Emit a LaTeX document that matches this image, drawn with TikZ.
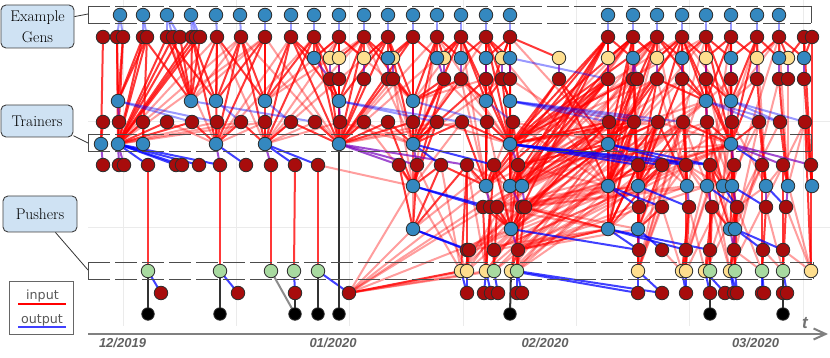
\documentclass[tikz,border=0pt]{standalone}
\usepackage{fontspec}
\newfontfamily\lsans{Liberation Sans}
\newfontfamily\dsans{DejaVu Sans}
\usetikzlibrary{arrows.meta}
\definecolor{cblue}{RGB}{52,136,192}
\definecolor{cred}{RGB}{168,12,12}
\definecolor{cyel}{RGB}{254,222,142}
\definecolor{cgrn}{RGB}{168,218,160}
\definecolor{cpur}{RGB}{120,0,190}
\definecolor{clab}{RGB}{207,226,243}
\definecolor{cedge}{RGB}{45,45,45}
\pgfdeclarelayer{bg}
\pgfdeclarelayer{edges}
\pgfsetlayers{bg,edges,main}
\tikzset{
  nd/.style={circle,draw=cedge,line width=0.8pt,minimum size=13.5pt,inner sep=0pt},
  bn/.style={nd,fill=cblue},
  rn/.style={nd,fill=cred},
  yn/.style={nd,fill=cyel},
  gn/.style={nd,fill=cgrn},
  kn/.style={nd,fill=black,minimum size=12.5pt},
  inp/.style={draw=red,line width=2pt,opacity=0.78},
  inpp/.style={draw=red,line width=2pt,opacity=0.38},
  outp/.style={draw=blue,line width=2pt,opacity=0.75},
  outpp/.style={draw=blue,line width=2pt,opacity=0.4},
  mix/.style={draw=cpur,line width=2pt,opacity=0.7},
  push/.style={draw=black!80,line width=2pt},
  pushg/.style={draw=black!45,line width=2pt},
  band/.style={draw=black!70,line width=0.9pt,dash pattern=on 22pt off 5pt},
  bandend/.style={draw=black!70,line width=0.9pt},
  lab/.style={draw=black!75,line width=0.9pt,rounded corners=5pt,fill=clab,align=center,inner sep=0pt,font=\fontsize{15.5}{21}\selectfont},
  gridln/.style={draw=black!8,line width=1pt},
  datel/.style={font=\lsans\bfseries\itshape\fontsize{13}{13}\selectfont,text=black!62,anchor=base},
  legt/.style={font=\dsans\fontsize{12.7}{13}\selectfont,text=black!65,anchor=base},
  conn/.style={draw=black!80,line width=0.8pt},
}
\newcommand\edgeset[2]{\foreach \c/\ins in {#2} {\foreach \i in \ins {\draw[#1] (\i.center) -- (\c.center);}}}
\begin{document}
\begin{tikzpicture}[x=1pt,y=-1pt]
\useasboundingbox (0,0) rectangle (830,358);
\begin{pgfonlayer}{bg}
\fill[white] (0,0) rectangle (830,358);
\foreach \x in {123,236,349,463,576,689,803} \draw[gridln] (\x,0) -- (\x,326);
\foreach \y in {122,228} \draw[gridln] (88,\y) -- (830,\y);
\end{pgfonlayer}

% bands
\draw[band] (88,6) -- (811,6); \draw[band] (88,23) -- (811,23);
\draw[bandend] (88,6) -- (88,23); \draw[bandend] (811,6) -- (811,23);
\draw[band] (88,134) -- (811,134); \draw[band] (88,151) -- (811,151);
\draw[bandend] (88,134) -- (88,151); \draw[bandend] (811,134) -- (811,151);
\draw[band] (88,262) -- (813,262); \draw[band] (88,279) -- (813,279);
\draw[bandend] (88,262) -- (88,279); \draw[bandend] (813,262) -- (813,279);

% nodes
\foreach \x in {120,143,167,191,216,240,265,291,314,339,364,388,413,437,461,486,510,608,633,657,682,706,731,757,779} \node[bn] (A\x) at (\x,15) {};
\foreach \x in {103,117,123,143,147,167,173,180,192,196,200,217,241,265,291,314,339,364,388,413,437,461,486,510,608,633,657,682,706,731,757,779,804,812} \node[rn] (B\x) at (\x,37) {};
\foreach \x in {330,339,364,393,444,502,559,608,657,706,757,788} \node[yn] (C\x) at (\x,58) {};
\foreach \x in {314,388,437,461,486,510,633,682,731,779,804} \node[bn] (C\x) at (\x,58) {};
\foreach \x in {330,339,364,388,393,444,461,486,502,510,559,608,633,637,657,682,706,731,757,779,788,804} \node[rn] (D\x) at (\x,79) {};
\foreach \x in {118,191,216,265,339,413,486,510,706,731} \node[bn] (E\x) at (\x,101) {};
\foreach \x in {103,119,143,167,192,217,241,265,291,315,340,364,388,413,437,462,487,513,609,634,658,683,707,732,759,780,805} \node[rn] (F\x) at (\x,122) {};
\foreach \x in {101,118,143,216,265,339,413,510,608,731} \node[bn] (G\x) at (\x,144) {};
\foreach \x in {103,119,124,148,176,182,199,220,246,271,295,318,399,417,441,467,494,518,638,662,686,710,734,762,783,811} \node[rn] (H\x) at (\x,165) {};
\foreach \x in {413,486,510,522,608,638,687,707,723,732,766,788,812} \node[bn] (I\x) at (\x,186) {};
\foreach \x in {483,490,497,522,525,639,662,689,712,737,766,786} \node[rn] (J\x) at (\x,207) {};
\foreach \x in {413,511,608,638,730,735} \node[bn] (K\x) at (\x,229) {};
\foreach \x in {467,469,494,518,639,662,686,710,734,763,783} \node[rn] (L\x) at (\x,250) {};
\foreach \x in {461,467,486,511,638,682,686,705,730,811} \node[yn] (M\x) at (\x,271) {};
\foreach \x in {148,220,271,294,318,494,517,710,735,762,783} \node[gn] (M\x) at (\x,271) {};
\foreach \x in {161,238,295,349,467,484,491,498,517,522,638,662,686,710,725,734,737,762,764,783,787} \node[rn] (N\x) at (\x,293) {};
\foreach \x in {148,220,295,318,339,510,710,783} \node[kn] (O\x) at (\x,314) {};

\begin{pgfonlayer}{edges}
% pale inputs
\edgeset{inpp}{G118/{B217,B241,F217,F241,F265,B265},E191/{B241,B265},G216/{B167,B291,B314,F265,F167},
G265/{B339,B364,B388,F315,F340,B217},E265/{B339,B364},G339/{B241,B265,B437,B461,F437,F462,D393},
G413/{B364,D393,B486,F364,F340,D502},E413/{B339,B461,D486},G510/{B437,D444,B682,F658,F437,D461,B706,D657},
I413/{D393,F364,H318,B413,B437,F462,N349},K413/{H494,N349,F413},I486/{F513,B461,D461,F609,B633,N349},
I510/{F634,H467,N349,B682,D657},I522/{B633,F658,B657,N349,D682,F707},
K511/{F513,B510,H467,F487,N349,B657,F683},I608/{F513,H518,B486,J522,L467,L494,J483},
G608/{B510,D510,F513,L518,J497,L494,J490,L469,J483,L467},K608/{B608,D633,B657,H686,L469,J490,L494},
I638/{J522,L494,J497,L518},K638/{F658,H686,F683,L518,J525},I687/{H662,D657,B657,F707,J522,L518},I707/{F683,H686,B731,J525,L518},
I723/{F732,D731,H686},I732/{F707,H710,D706},K730/{H686,F707,H762},K735/{F732,H762,F759},
I766/{J737,F732,B757,H783},I788/{F805,D788,B779},E706/{H518,J525,L518},E731/{B779,D757,B682},
G731/{J522,L518,H518,J497,L494,L469,J525,F658},
M461/{H399,H441,B608,D608,F609},M467/{H417,N349,B633,F634},M486/{N349,H467,D633,F658,B657},
M494/{N349,J490,F683,D682},M511/{B682,F707,D706},M517/{B706,F732,D731},M638/{J662,H662,F683,B706,D706},
M682/{J662,L662,F732,D731,B757},M686/{F759},M705/{J689,F780,B779},M730/{J712,H710,D779,F805},
M762/{J737,L734},M783/{J766,L763},M811/{L783,J786,H783}}
% strong inputs
\edgeset{inp}{G101/{B103,F103},G118/{B117,B123,B143,B147,B167,B173,B180,B192,B196,B200,F119,F143,F167,F192},
E118/{B117,B123,B143,B147},E191/{B143,B167,B173,B180,B192,B200,B217},E216/{B167,B192,B217,B241,B265},
E265/{B217,B241,B265,B291,B314},G143/{F143,B147},G216/{B192,B217,B241,B265,F192,F217,F241},
G265/{B241,B265,B291,B314,F241,F265,F291},E339/{B291,B314,B339,B364,B388,D330,D339},
G339/{B291,B314,B339,B364,B388,B413,D330,D339,D364,D388,F291,F315,F340,F364,F388,F413},
E413/{B364,B388,B413,B437,D393,D444,D461},G413/{B388,B413,B437,B461,D444,D461,D486,F388,F413,F437,F462},
E486/{B461,B486,B510,D461,D486,D502},E510/{B486,B510,D502,D510},
G510/{B461,B486,B510,D486,D502,D510,F462,F487,F513,D559,B608,D608,B633,B657,D633,F609,F634},
C314/{B291,B314,B339},C330/{B314,B339},C339/{B339,B364},C364/{B339,B364,B388},C388/{B364,B388,B413},
C393/{B388,B413},C437/{B413,B437,B461},C444/{B437,B461},C461/{B437,B461,B486},C486/{B461,B486,B510},
C502/{B486,B510},C510/{B486,B510},C559/{B510},C608/{B608,B633},C633/{B608,B633,B657},C657/{B633,B657,B682},
C682/{B657,B682,B706},C706/{B682,B706,B731},C731/{B706,B731,B757},C757/{B731,B757,B779},C779/{B757,B779},
C788/{B779,B804},C804/{B779,B804,B812},
I413/{H399,H417,H441,F388,F437,D444},K413/{H399,H417,H441,H467},
I486/{B486,D486,F462,F487,H441,H467,H494,D559,B608,D608},I510/{B510,D510,F513,H494,H518,B608,D608,F609,B633},
I522/{H518,F513,B608,F609,D608,F634},
K511/{H494,H518,J483,J490,J497,J522,F609,B608},I608/{B608,B633,D608,D633,F609,F634,H638,D559,B657,D657,F658},
G608/{B608,B633,B657,D559,D608,D633,F609,F634,F658,H518,J522,B682,D657},K608/{H638,H662,F609,F634,J522,L518,D608,F658},
I638/{F634,F658,H638,H662,D633,D657,B633,B682,D682,F683},K638/{J639,J662,H638,H662},I687/{H686,F683,D682,B682,F658},
I707/{F707,H710,D706,B706},I723/{H710,H734,F707},I732/{H734,F732,D731,B731},K730/{J737,J712,H734,H710},
K735/{J737,H734},I766/{H762,F759,D757},I788/{H783,F780,D779},I812/{H811,F805,D804,B804,B812},
E706/{B682,B706,B731,D682,D706,B657,D657},E731/{B706,B731,B757,D706,D731},
G731/{B706,B731,B757,D731,D757,F707,F732,F759,B682,D706,F683},
M148/{H148},M220/{H220},M271/{H271},M294/{H295},M318/{H318},
M461/{H467,N349},M467/{L467,L469,H467},M486/{J483,J490,H494},M494/{L494,J497},M511/{L518,J522},
M517/{L518,J525,H518},M638/{L639,J639,H638},M682/{L686,J689},M686/{L686,J689,H686},M705/{L710,J712},
M710/{L710,J712,H710},M730/{L734,J737},M735/{L734,J737,H734},M762/{L763,J766,H762},M783/{L783,J786,H783},
M811/{H811,F805}}
% outputs
\edgeset{outpp}{A120/{B117,B123},A143/{B143,B147},A167/{B167,B173,B180},A191/{B192,B196,B200},A216/{B217},
A240/{B241},A265/{B265},A291/{B291},A314/{B314},A339/{B339},A364/{B364},A388/{B388},A413/{B413},A437/{B437},
A461/{B461},A486/{B486},A510/{B510},A608/{B608},A633/{B633},A657/{B657},A682/{B682},A706/{B706},A731/{B731},
A757/{B757},A779/{B779},
E118/{F192,F217},E191/{F315},E216/{F241},E265/{F291},E339/{F437,F462},E413/{F487},E486/{F513},
E510/{F609,F634,F658,F683},E706/{F759,F780},E731/{F780,F805},C510/{D608}}
\edgeset{mix}{C314/{D330},C330/{D330},C339/{D339},C364/{D364},C388/{D388},C393/{D393},C437/{D444},C444/{D444},
C461/{D461},C486/{D486},C502/{D502},C510/{D510},C559/{D559},C608/{D608},C633/{D633,D637},C657/{D657},
C682/{D682},C706/{D706},C731/{D731},C757/{D757},C779/{D779},C788/{D788},C804/{D804},
E118/{F119},E339/{F340},E413/{F413},E706/{F707},E731/{F732},
G101/{H103},G118/{H119,H124},G216/{H220},G265/{H271},G339/{H399,H417,H467},G413/{H417},G510/{H518},
G608/{H638},G731/{H734,H783,H811},
I486/{J490},I510/{J522},I522/{J525},I638/{J639},I687/{J689},I707/{J712},I732/{J737},I766/{J766},I788/{J786},
K511/{L518},K638/{L639},K730/{L734},K735/{L734}}
\edgeset{outp}{G118/{H148,H176,H182,H199,H220},G216/{H246},G265/{H295,H318},G413/{H441,H494},
G510/{H638,H662,H686,H710},G608/{H686,H710},G731/{H762},
I413/{J483,J490},I608/{J639,J662},I638/{J689},I707/{J737},I723/{J737},I732/{J766},I766/{J786},
K413/{L467,L469},K511/{L639},K608/{L639,L686,L710},K735/{L763,L783},K638/{L662},
M148/{N161},M220/{N238},M294/{N295},M318/{N349},M461/{N467},M467/{N467},M486/{N484,N491},M494/{N498},
M517/{N517,N522,N662},M511/{N638},M638/{N638,N662},M682/{N686},M686/{N686},M705/{N710,N725},M710/{N710},
M730/{N734,N737},M735/{N737},M762/{N762,N764},M783/{N783,N787}}
\edgeset{push}{O148/{M148},O220/{M220},O295/{N295},O318/{M318},O339/{G339},O510/{M511},O710/{M710,N710},O783/{M783}}
\edgeset{pushg}{O295/{M271}}
\end{pgfonlayer}

% labels
\node[lab,minimum width=73pt,minimum height=43pt] (lg) at (37.5,26.5) {Example\\Gens};
\node[lab,minimum width=72pt,minimum height=32pt] (lt) at (37,121) {Trainers};
\node[lab,minimum width=74pt,minimum height=36pt] (lp) at (40,214) {Pushers};
\coordinate (gb) at (88,14);
\coordinate (tb) at (88,143);
\coordinate (pb) at (88,270);
\draw[conn] (lg.15) -- (gb);
\draw[conn] (lt.-22) -- (tb);
\draw[conn] (lp.-50) -- (pb);

% legend
\node[draw=black!60,line width=1pt,minimum width=64pt,minimum height=53pt,inner sep=0pt] (leg) at (41,307.5) {};
\node[legt] (li) at (42.5,299) {input};
\node[legt] (lo) at (42,323) {output};
\draw[red,line width=1.5pt] (18,304) -- (66,304);
\draw[blue!75,line width=1.5pt] (18,327) -- (66,327);

% axis
\draw[black!50,line width=2pt,-{Straight Barb[length=12pt,width=11pt,line width=2pt]}] (88,334) -- (828,334);
\node[datel] at (122.5,347) {12/2019};
\node[datel] at (333,347) {01/2020};
\node[datel] at (545,347) {02/2020};
\node[datel] at (755.5,347) {03/2020};
\node[font=\lsans\bfseries\itshape\fontsize{17}{17}\selectfont,text=black!55,anchor=base] at (805,328) {t};
\end{tikzpicture}
\end{document}
